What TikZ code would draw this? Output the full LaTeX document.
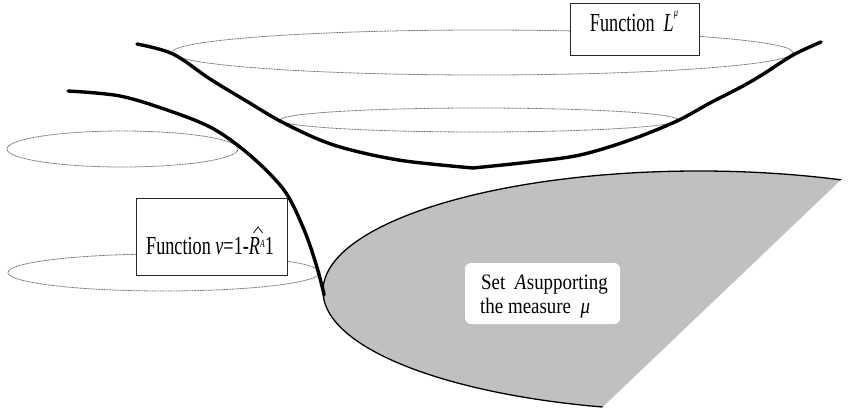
\documentclass[tikz,border=0pt]{standalone}
\usepackage{fontspec}
\setmainfont{Liberation Serif}
\usepackage{graphicx}
\definecolor{setgray}{RGB}{192,192,192}
\definecolor{dotgray}{RGB}{105,105,105}
\newcommand{\labelfont}{\fontsize{26}{30}\selectfont}
\tikzset{
  orbit/.style={draw=dotgray, line width=0.8pt, dash pattern=on 1pt off 0.6pt},
  thickcurve/.style={line width=3.4pt, line cap=round, line join=round},
  labelbox/.style={draw=black!85, line width=0.8pt, fill=white, inner sep=0pt},
  setbox/.style={fill=white, rounded corners=6pt, inner sep=0pt},
  labeltext/.style={inner sep=0pt, anchor=base, font=\labelfont},
  settext/.style={inner sep=0pt, anchor=base west, font=\fontsize{22}{25}\selectfont},
  accentline/.style={line width=0.7pt, line join=miter},
}
\begin{document}
\begin{tikzpicture}[x=1pt,y=-1pt]
\useasboundingbox (0,0) rectangle (853,412);
% set A (grey region)
\begin{scope}
  \clip (1040,-10) -- (589,420) -- (-10,420) -- (-10,-10) -- cycle;
  \fill[setgray] (699,291) ellipse [x radius=376pt, y radius=120pt];
  \draw[line width=1.3pt] (699,291) ellipse [x radius=376pt, y radius=120pt];
\end{scope}
% dotted level ellipses
\draw[orbit] (482.5,52.5) ellipse [x radius=310.5pt, y radius=22.5pt];
\draw[orbit] (479,120) ellipse [x radius=199pt, y radius=12pt];
\draw[orbit] (122.5,149) ellipse [x radius=115.5pt, y radius=18pt];
\draw[orbit] (164,272.5) ellipse [x radius=156pt, y radius=18.5pt];
% function L^mu
\draw[thickcurve] plot[smooth, tension=0.55] coordinates {(137,44) (173,54) (210,79) (248,102) (280,121) (320,140) (355,151) (405,161) (473,168)};
\draw[thickcurve] plot[smooth, tension=0.55] coordinates {(473,168) (530,162) (580,155) (630,140) (677,121) (710,103) (743,86) (765,73) (793,55) (821,42)};
% function nu
\draw[thickcurve] plot[smooth, tension=0.55] coordinates {(68,91) (120,96) (170,111) (210,127) (240,147) (268,172) (288,196) (305,232) (316,264) (323,290) (324,295)};
% label boxes
\node[labelbox, minimum width=129pt, minimum height=52pt] (lbox) at (634.5,29) {};
\node[labeltext] (ltext) at (634,32) {\scalebox{0.7}[1]{Function\ \ \textit{L}\raisebox{15pt}{\fontsize{12}{12}\selectfont\textit{μ}}}};
\node[labelbox, minimum width=151pt, minimum height=77pt] (nubox) at (211.5,236.5) {};
\node[labeltext] (nutext) at (210,254) {\scalebox{0.7}[1]{Function \textit{ν}=1-\textit{R}\raisebox{7pt}{\fontsize{11}{11}\selectfont\textit{A}}1}};
\coordinate (hatL) at (253.5,233);
\coordinate (hatT) at (258,227);
\coordinate (hatR) at (262.5,233);
\draw[accentline] (hatL) -- (hatT) -- (hatR);
\node[setbox, minimum width=155pt, minimum height=61pt] (setA) at (542.5,293.5) {};
\node[settext] (setline1) at (481,289) {\scalebox{0.86}[1]{Set\ \ \textit{A}\kern0.5pt supporting}};
\node[settext] (setline2) at (480,313) {\scalebox{0.86}[1]{the measure\ \ \textit{μ}}};
\end{tikzpicture}
\end{document}
